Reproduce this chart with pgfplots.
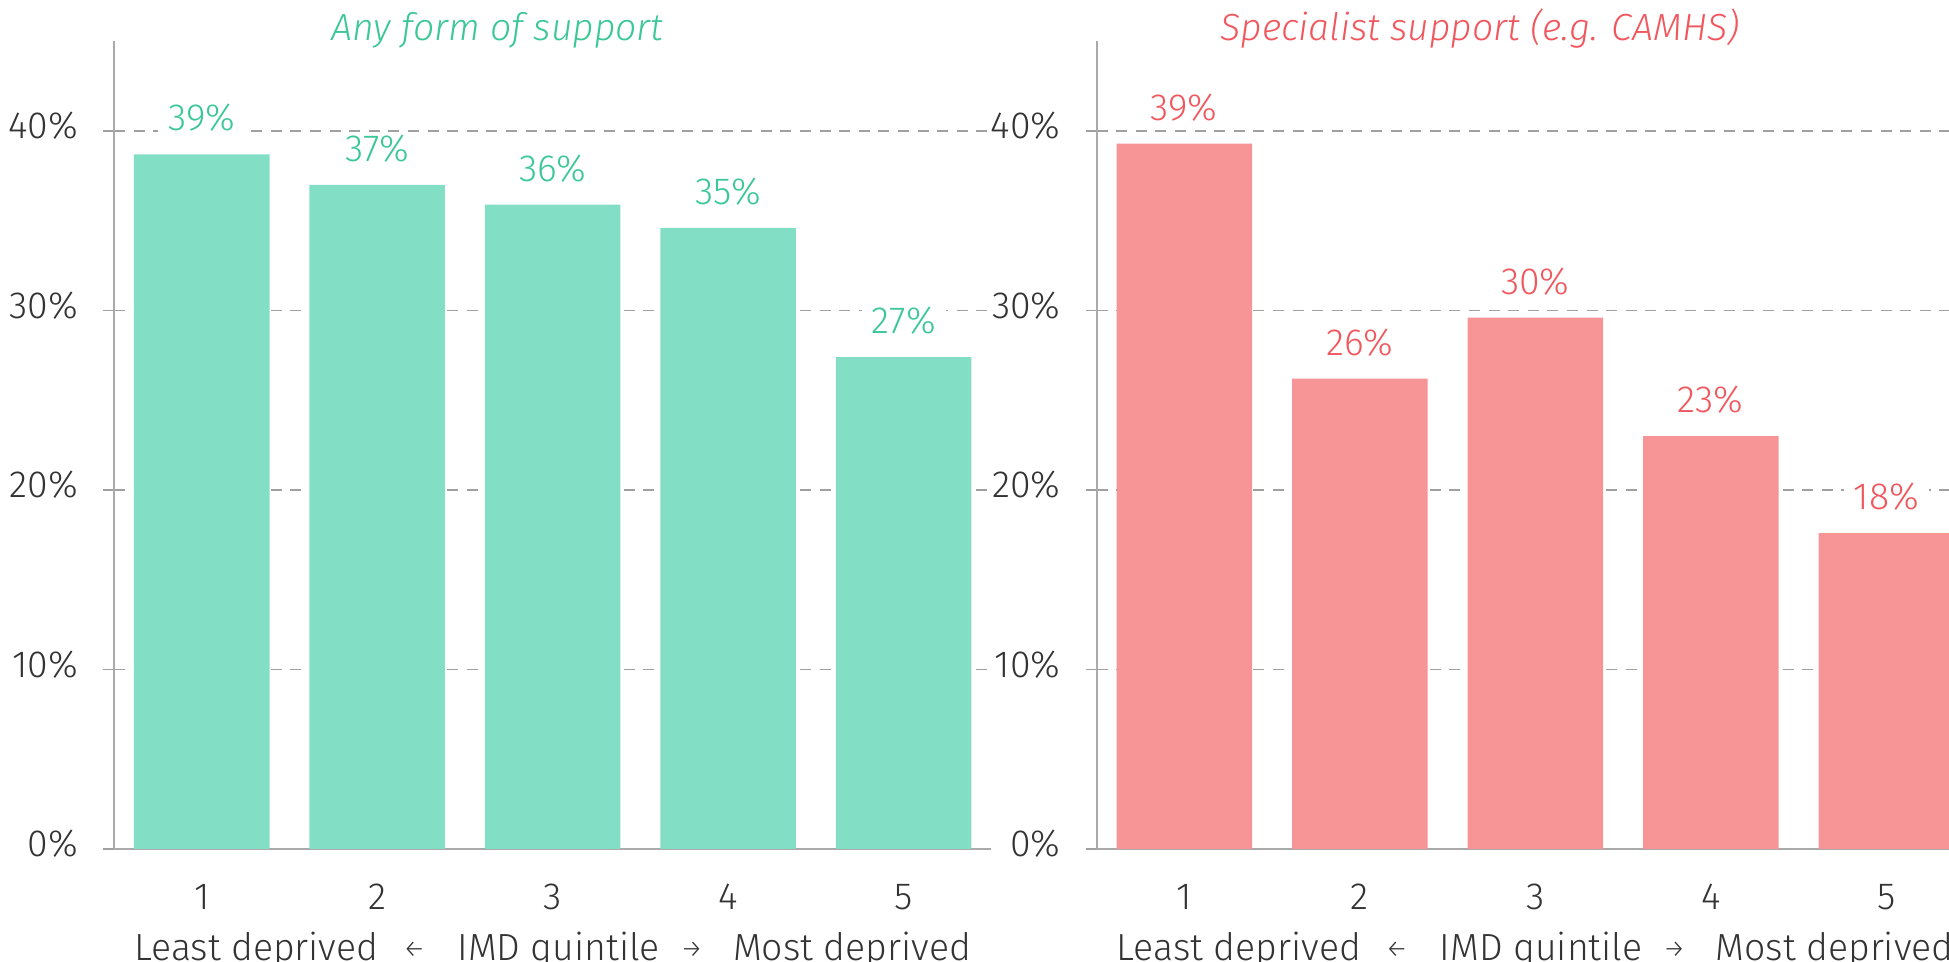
\documentclass[border=0pt]{standalone}
\usepackage{pgfplots}
\pgfplotsset{compat=1.18}
\usepackage{fontspec}
\setmainfont{Fira Sans Light}[FakeStretch=0.99]
\newfontfamily\titlefont{Fira Sans Light}[FakeStretch=0.99]
\definecolor{greenbar}{RGB}{130,222,196}
\definecolor{greentext}{RGB}{60,199,150}
\definecolor{redbar}{RGB}{246,148,150}
\definecolor{redtext}{RGB}{240,88,94}
\definecolor{gridgray}{RGB}{160,160,160}
\definecolor{axisgray}{RGB}{170,170,170}
\definecolor{ticktext}{RGB}{51,51,51}
\newcommand{\arr}[1]{{\fontsize{12.5pt}{14pt}\selectfont\raisebox{1.5pt}{#1}}}
\pgfplotsset{
  panel/.style={
    scale only axis, width=438.75pt, height=403.9pt,
    xmin=0.5, xmax=5.5, ymin=0, ymax=45,
    axis x line=bottom, axis y line=left,
    axis line style={draw=axisgray, line width=1pt, -},
    xtick={1,2,3,4,5}, xtick style={draw=none},
    ytick={0,10,20,30,40},
    ymajorgrids,
    grid style={draw=gridgray, line width=0.8pt, dash pattern=on 5.5pt off 4.3pt},
    tick align=outside, major tick length=5.5pt,
    ytick style={draw=gridgray, line width=0.8pt},
    yticklabel={\pgfmathprintnumber{\tick}\%},
    /pgf/number format/assume math mode=true,
    tick label style={text=ticktext},
    yticklabel style={anchor=east, inner sep=0pt, xshift=-12.3pt, yshift=2.5pt},
    xticklabel style={anchor=base, inner sep=0pt, yshift=-24.8pt},
    xlabel={Least deprived\hspace{0.65em}\arr{←}\hspace{0.85em}IMD quintile\hspace{0.55em}\arr{→}\hspace{0.8em}Most deprived},
    xlabel style={at={(axis description cs:0.5,0)}, anchor=base, inner sep=0pt, yshift=-56pt, text=ticktext},
    title style={at={(axis description cs:0.437,1)}, anchor=base, inner sep=0pt, yshift=-5.5pt, font=\titlefont\itshape},
    ybar, bar width=67.75pt,
    nodes near coords={\pgfmathprintnumber[fixed,precision=0]{\pgfplotspointmeta}\%},
    nodes near coords style={anchor=base, yshift=11.75pt, fill=white, inner xsep=5pt, inner ysep=1pt},
    clip=false,
  }
}
\begin{document}
\fontsize{18.9pt}{22pt}\selectfont
\begin{tikzpicture}
\begin{axis}[panel, at={(57pt,56.5pt)}, anchor=south west,
  title={Any form of support}, title style={text=greentext},
  nodes near coords style={text=greentext}]
\addplot[draw=none, fill=greenbar] coordinates {(1,38.7) (2,37.0) (3,35.9) (4,34.6) (5,27.4)};
\end{axis}
\begin{axis}[panel, at={(548.25pt,56.5pt)}, anchor=south west,
  title={Specialist support (e.g. CAMHS)}, title style={text=redtext},
  nodes near coords style={text=redtext}]
\addplot[draw=none, fill=redbar] coordinates {(1,39.3) (2,26.2) (3,29.6) (4,23.0) (5,17.6)};
\end{axis}
\pgfresetboundingbox
\useasboundingbox (0,0) rectangle (974.5pt,481pt);
\end{tikzpicture}
\end{document}
